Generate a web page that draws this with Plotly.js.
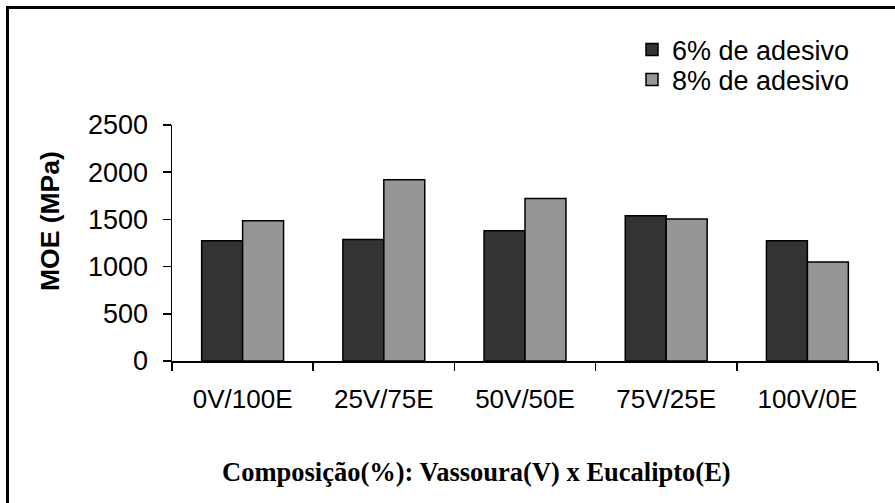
<!DOCTYPE html>
<html>
<head>
<meta charset="utf-8">
<script src="https://cdn.plot.ly/plotly-3.0.1.min.js"></script>
<style>
html,body{margin:0;padding:0;background:#fff;}
#chart{width:895px;height:503px;}
</style>
</head>
<body>
<div id="chart"></div>
<script>
const categories = ["0V/100E", "25V/75E", "50V/50E", "75V/25E", "100V/0E"];
const moe6 = [1273, 1287, 1379, 1538, 1273];
const moe8 = [1485, 1920, 1721, 1503, 1050];
const seriesNames = ["6% de adesivo", "8% de adesivo"];
const yTicks = [0, 500, 1000, 1500, 2000, 2500];

const W = 895, H = 503;
const L = 172, R = 17, T = 125, B = 142;
const pw = W - L - R, ph = H - T - B;
const px = v => (v - L) / pw;
const py = v => (H - B - v) / ph;

const traces = [
  {type: "bar", name: seriesNames[0], x: categories, y: moe6, legend: "legend",
   marker: {color: "#333333", line: {color: "#000", width: 1.5}}},
  {type: "bar", name: seriesNames[1], x: categories, y: moe8, legend: "legend2",
   marker: {color: "#969696", line: {color: "#000", width: 1.5}}}
];

const legendCommon = {xanchor: "left", yanchor: "middle",
  font: {size: 27, color: "#000"}, bgcolor: "rgba(0,0,0,0)", itemwidth: 30};

const layout = {
  width: W, height: H,
  margin: {l: L, r: R, t: T, b: B, pad: 0},
  paper_bgcolor: "#fff", plot_bgcolor: "#fff",
  font: {family: "Liberation Sans, Arial, sans-serif", color: "#000", size: 26},
  barmode: "group", bargap: 0.42, bargroupgap: 0,
  showlegend: true,
  legend: Object.assign({x: px(632), y: py(50)}, legendCommon),
  legend2: Object.assign({x: px(632), y: py(80)}, legendCommon),
  xaxis: {showline: true, linecolor: "#000", linewidth: 1.5, ticks: "outside",
          ticklen: 8, tickcolor: "#000", tickwidth: 1.5, tickson: "boundaries",
          showgrid: false, zeroline: false, tickfont: {size: 26},
          ticklabelstandoff: 14, automargin: false},
  yaxis: {range: [0, 2500], tickvals: yTicks, showline: true, linecolor: "#000",
          linewidth: 1.5, ticks: "outside", ticklen: 8, tickcolor: "#000",
          tickwidth: 1.5, showgrid: false, zeroline: false,
          tickfont: {size: 27}, ticklabelstandoff: 9, automargin: false},
  annotations: [
    {text: "<b>MOE (MPa)</b>", xref: "paper", yref: "paper", x: px(50), y: py(221),
     xanchor: "center", yanchor: "middle",
     textangle: -90, showarrow: false, font: {size: 26.5, family: "Liberation Sans, Arial, sans-serif"}},
    {text: "<b>Composição(%): Vassoura(V) x Eucalipto(E)</b>", xref: "paper", yref: "paper",
     x: px(476), y: py(472), xanchor: "center", yanchor: "middle", showarrow: false,
     font: {size: 26.5, family: "Liberation Serif, Times New Roman, serif"}}
  ],
  shapes: [
    {type: "rect", xref: "paper", yref: "paper", x0: px(7.5), y0: py(7.5), x1: px(920), y1: py(530),
     line: {color: "#000", width: 3}, fillcolor: "rgba(0,0,0,0)", layer: "below"}
  ]
};

Plotly.newPlot("chart", traces, layout, {staticPlot: true, displayModeBar: false});
</script>
</body>
</html>
